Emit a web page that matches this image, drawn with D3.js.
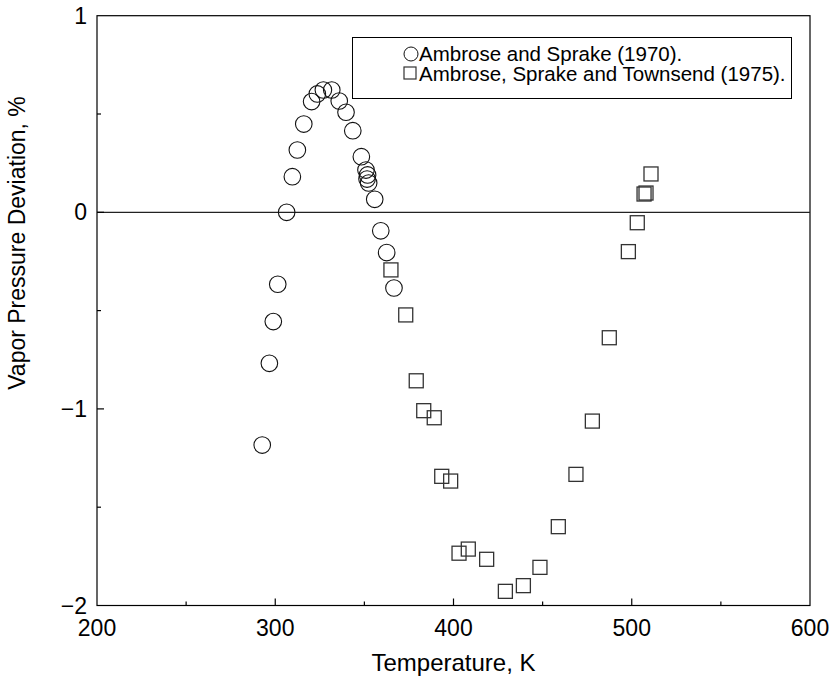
<!DOCTYPE html>
<html>
<head>
<meta charset="utf-8">
<script src="https://cdn.jsdelivr.net/npm/d3@7"></script>
<style>
  body { margin: 0; background: #fff; }
  svg { font-family: "Liberation Sans", Arial, sans-serif; }
</style>
</head>
<body>
<svg width="833" height="679"></svg>
<script>
// Ambrose and Sprake (1970)
var tempAS = [292.7, 296.7, 298.9, 301.4, 306.4, 309.6, 312.4, 316.0, 320.4, 323.6, 327.0, 331.7,
              335.9, 339.7, 343.5, 348.3, 350.9, 351.8, 351.5, 352.4, 355.8, 359.2, 362.5, 366.6];
var devAS = [-1.184, -0.768, -0.556, -0.366, 0.0, 0.181, 0.317, 0.449, 0.563, 0.602, 0.622, 0.622,
             0.566, 0.509, 0.415, 0.283, 0.215, 0.190, 0.169, 0.149, 0.066, -0.094, -0.205, -0.385];

// Ambrose, Sprake and Townsend (1975)
var tempAST = [364.9, 373.2, 379.1, 383.3, 389.2, 393.4, 398.4, 403.1, 408.3, 418.6, 429.1, 439.2,
               448.5, 458.8, 468.7, 477.9, 487.4, 498.1, 503.1, 506.9, 508.0, 510.8];
var devAST = [-0.293, -0.522, -0.857, -1.009, -1.045, -1.343, -1.367, -1.734, -1.713, -1.765, -1.928, -1.899,
              -1.806, -1.599, -1.333, -1.062, -0.638, -0.200, -0.053, 0.093, 0.098, 0.195];

var xTicks = [200, 300, 400, 500, 600];
var yTicks = [1, 0, -1, -2];
var legendLabels = ["Ambrose and Sprake (1970).", "Ambrose, Sprake and Townsend (1975)."];

var svg = d3.select("svg");
var pLeft = 97, pRight = 810, pTop = 15.7, pBottom = 605.5;

var x = d3.scaleLinear().domain([200, 600]).range([pLeft, pRight]);
var y = d3.scaleLinear().domain([-2, 1]).range([pBottom, pTop]);

// frame
svg.append("rect")
    .attr("x", pLeft).attr("y", pTop)
    .attr("width", pRight - pLeft).attr("height", pBottom - pTop)
    .attr("fill", "none").attr("stroke", "#000").attr("stroke-width", 1.2);

// zero line
svg.append("line")
    .attr("x1", pLeft).attr("x2", pRight)
    .attr("y1", y(0)).attr("y2", y(0))
    .attr("stroke", "#222").attr("stroke-width", 1.2);

// ticks (inward)
var xMinor = d3.range(250, 600, 100);
var yMinor = [0.5, -0.5, -1.5];
var tk = svg.append("g").attr("stroke", "#000").attr("stroke-width", 1.2);
tk.selectAll(".xt").data(xTicks.slice(1, -1)).enter().append("line")
    .attr("x1", function(d) { return x(d); }).attr("x2", function(d) { return x(d); })
    .attr("y1", pBottom).attr("y2", pBottom - 7);
tk.selectAll(".xm").data(xMinor).enter().append("line")
    .attr("x1", function(d) { return x(d); }).attr("x2", function(d) { return x(d); })
    .attr("y1", pBottom).attr("y2", pBottom - 4);
tk.selectAll(".yt").data(yTicks.slice(1, -1)).enter().append("line")
    .attr("x1", pLeft).attr("x2", pLeft + 7)
    .attr("y1", function(d) { return y(d); }).attr("y2", function(d) { return y(d); });
tk.selectAll(".ym").data(yMinor).enter().append("line")
    .attr("x1", pLeft).attr("x2", pLeft + 4)
    .attr("y1", function(d) { return y(d); }).attr("y2", function(d) { return y(d); });

// tick labels
svg.selectAll(".xl").data(xTicks).enter().append("text")
    .attr("x", function(d) { return x(d); })
    .attr("y", 636)
    .attr("text-anchor", "middle")
    .style("font-size", "23px")
    .text(function(d) { return d; });

svg.selectAll(".yl").data(yTicks).enter().append("text")
    .attr("x", 87)
    .attr("y", function(d) { return y(d) + 8; })
    .attr("text-anchor", "end")
    .style("font-size", "23px")
    .text(function(d) { return d < 0 ? "\u2212" + Math.abs(d) : d; });

// axis titles
svg.append("text")
    .attr("x", (pLeft + pRight) / 2).attr("y", 671)
    .attr("text-anchor", "middle")
    .style("font-size", "24px")
    .text("Temperature, K");

svg.append("text")
    .attr("transform", "translate(25,243) rotate(-90)")
    .attr("text-anchor", "middle")
    .style("font-size", "23px")
    .text("Vapor Pressure Deviation, %");

// data
var circles = tempAS.map(function(t, i) { return { t: t, v: devAS[i] }; });
var squares = tempAST.map(function(t, i) { return { t: t, v: devAST[i] }; });

svg.append("g").selectAll("circle").data(circles).enter().append("circle")
    .attr("cx", function(d) { return x(d.t); })
    .attr("cy", function(d) { return y(d.v); })
    .attr("r", 8.3)
    .attr("fill", "none").attr("stroke", "#111").attr("stroke-width", 1.1);

var sq = 14;
svg.append("g").selectAll("rect").data(squares).enter().append("rect")
    .attr("x", function(d) { return x(d.t) - sq / 2; })
    .attr("y", function(d) { return y(d.v) - sq / 2; })
    .attr("width", sq).attr("height", sq)
    .attr("fill", "none").attr("stroke", "#333").attr("stroke-width", 1.3);

// legend
var lg = svg.append("g");
lg.append("rect")
    .attr("x", 352.5).attr("y", 37.5).attr("width", 439).attr("height", 61)
    .attr("fill", "#fff").attr("stroke", "#000").attr("stroke-width", 1);
lg.append("circle").attr("cx", 411).attr("cy", 54).attr("r", 7)
    .attr("fill", "none").attr("stroke", "#111").attr("stroke-width", 1);
lg.append("rect").attr("x", 404).attr("y", 67).attr("width", 12).attr("height", 12)
    .attr("fill", "none").attr("stroke", "#333").attr("stroke-width", 1.2);
lg.selectAll(".lt").data(legendLabels).enter().append("text")
    .attr("x", 419)
    .attr("y", function(d, i) { return 61 + i * 19.5; })
    .style("font-size", "20.5px")
    .text(function(d) { return d; });
</script>
</body>
</html>
